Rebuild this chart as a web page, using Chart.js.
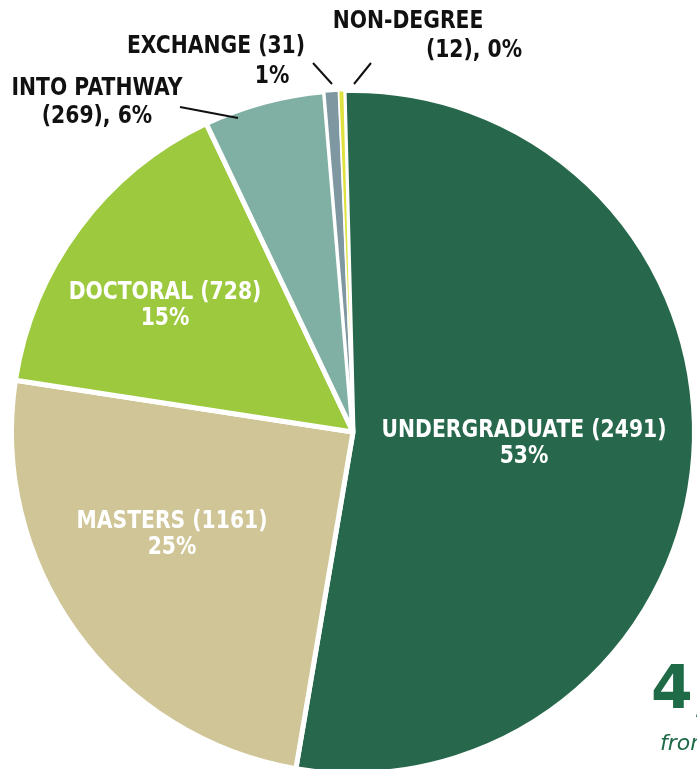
<!DOCTYPE html>
<html>
<head>
<meta charset="utf-8">
<script src="https://cdn.jsdelivr.net/npm/chart.js@4.4.0/dist/chart.umd.min.js"></script>
<style>
  html, body { margin: 0; padding: 0; background: #fff; overflow: hidden; width: 697px; height: 769px; }
  #wrap { position: absolute; left: 0; top: 0; width: 706px; height: 864px; }
  .total { position: absolute; left: 651px; top: 652px; font: bold 60px "DejaVu Sans", sans-serif; color: #1f6b48; white-space: nowrap; }
  .from { position: absolute; left: 660px; top: 730px; font: italic 22px "DejaVu Sans", sans-serif; color: #1f6b48; white-space: nowrap; }
</style>
</head>
<body>
<div id="wrap"><canvas id="chartPie"></canvas></div>
<div class="total">4,692</div>
<div class="from">from 100+ countries</div>
<script>
const categories = ['UNDERGRADUATE', 'MASTERS', 'DOCTORAL', 'INTO PATHWAY', 'EXCHANGE', 'NON-DEGREE'];
const students = [2491, 1161, 728, 269, 31, 12];
const percents = ['53%', '25%', '15%', '6%', '1%', '0%'];
const colors = ['#27684c', '#cfc596', '#9dc93f', '#80b0a4', '#7e97a1', '#dde23e'];

// label layout: baseline of each line, x of each line, leader line
const labelSpots = [
    { lines: [categories[0] + ' (' + students[0] + ')', percents[0]], xs: [524, 524], ys: [437, 463], color: '#fff' },
    { lines: [categories[1] + ' (' + students[1] + ')', percents[1]], xs: [172, 172], ys: [528, 554], color: '#fff' },
    { lines: [categories[2] + ' (' + students[2] + ')', percents[2]], xs: [165, 165], ys: [299, 325], color: '#fff' },
    { lines: [categories[3], '(' + students[3] + '), ' + percents[3]], xs: [97, 97], ys: [95, 123], color: '#111', leader: [180, 107, 238, 118] },
    { lines: [categories[4] + ' (' + students[4] + ')', percents[4]], xs: [216, 272], ys: [53, 83], color: '#111', leader: [313, 63, 332, 84] },
    { lines: [categories[5], '(' + students[5] + '), ' + percents[5]], xs: [408, 474], ys: [28, 57], color: '#111', leader: [371, 63, 354, 84] }
];

const FONT = 'bold 25px "DejaVu Sans", sans-serif';

const sliceLabels = {
    id: 'sliceLabels',
    afterDatasetsDraw(chart) {
        const ctx = chart.ctx;
        ctx.save();
        ctx.font = FONT;
        ctx.textBaseline = 'alphabetic';
        ctx.textAlign = 'center';
        // condensed look: squeeze so the undergraduate line is ~285px wide
        const sx = 285 / ctx.measureText(labelSpots[0].lines[0]).width;
        labelSpots.forEach(spot => {
            ctx.fillStyle = spot.color;
            spot.lines.forEach((txt, i) => {
                ctx.save();
                ctx.translate(spot.xs[i], spot.ys[i]);
                ctx.scale(sx, 1);
                ctx.fillText(txt, 0, 0);
                ctx.restore();
            });
            if (spot.leader) {
                ctx.strokeStyle = '#111';
                ctx.lineWidth = 2;
                ctx.beginPath();
                ctx.moveTo(spot.leader[0], spot.leader[1]);
                ctx.lineTo(spot.leader[2], spot.leader[3]);
                ctx.stroke();
            }
        });
        ctx.restore();
    }
};

const configPie = {
    type: 'pie',
    data: {
        labels: categories,
        datasets: [{
            data: students,
            backgroundColor: colors,
            borderColor: '#fff',
            borderWidth: [5, 5, 5, 5, 2, 1.5],  // thinner edges so the tiny slices stay visible
            hoverOffset: 0
        }]
    },
    options: {
        responsive: true,
        maintainAspectRatio: false,
        animation: false,
        rotation: -1.5,
        layout: { padding: 9 },
        plugins: {
            legend: { display: false },
            tooltip: { enabled: false }
        }
    },
    plugins: [sliceLabels]
};

var chartPie = new Chart(document.getElementById('chartPie'), configPie);
</script>
</body>
</html>
